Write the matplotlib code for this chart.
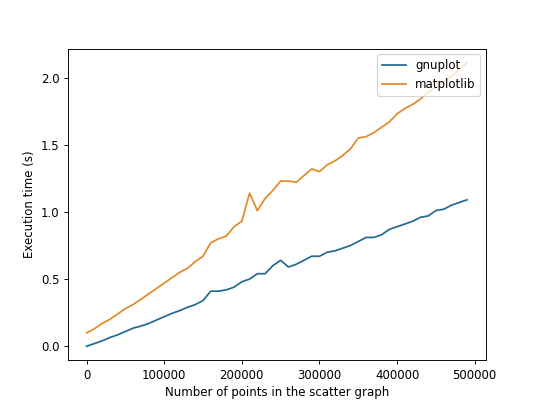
import numpy as np
import matplotlib
matplotlib.use("Agg")
import matplotlib.pyplot as plt

# number of points in the scatter graph (0 .. 490000, step 10000)
n_points = list(range(0, 500000, 10000))

gnuplot_times = [
    0.00, 0.02, 0.04, 0.065, 0.085, 0.11, 0.135, 0.15, 0.17, 0.195,
    0.22, 0.245, 0.265, 0.29, 0.31, 0.34, 0.41, 0.41, 0.42, 0.44,
    0.48, 0.50, 0.54, 0.54, 0.60, 0.64, 0.59, 0.61, 0.64, 0.67,
    0.67, 0.70, 0.71, 0.73, 0.75, 0.78, 0.81, 0.81, 0.83, 0.87,
    0.89, 0.91, 0.93, 0.96, 0.97, 1.01, 1.02, 1.05, 1.07, 1.09,
]

matplotlib_times = [
    0.10, 0.13, 0.17, 0.20, 0.24, 0.28, 0.31, 0.35, 0.39, 0.43,
    0.47, 0.51, 0.55, 0.58, 0.63, 0.67, 0.77, 0.80, 0.82, 0.89,
    0.93, 1.14, 1.01, 1.10, 1.16, 1.23, 1.23, 1.22, 1.27, 1.32,
    1.30, 1.35, 1.38, 1.42, 1.47, 1.55, 1.56, 1.59, 1.63, 1.67,
    1.73, 1.77, 1.80, 1.84, 1.89, 1.93, 1.97, 2.01, 2.06, 2.11,
]

fig, ax = plt.subplots(figsize=(6.4, 4.8), dpi=540 / 6.4)

ax.plot(n_points, gnuplot_times, color="#266b92", label="gnuplot")
ax.plot(n_points, matplotlib_times, color="#e38a2a", label="matplotlib")

ax.set_xlabel("Number of points in the scatter graph")
ax.set_ylabel("Execution time (s)")
ax.legend(loc="upper right")

plt.savefig("out.png", dpi=540 / 6.4)
